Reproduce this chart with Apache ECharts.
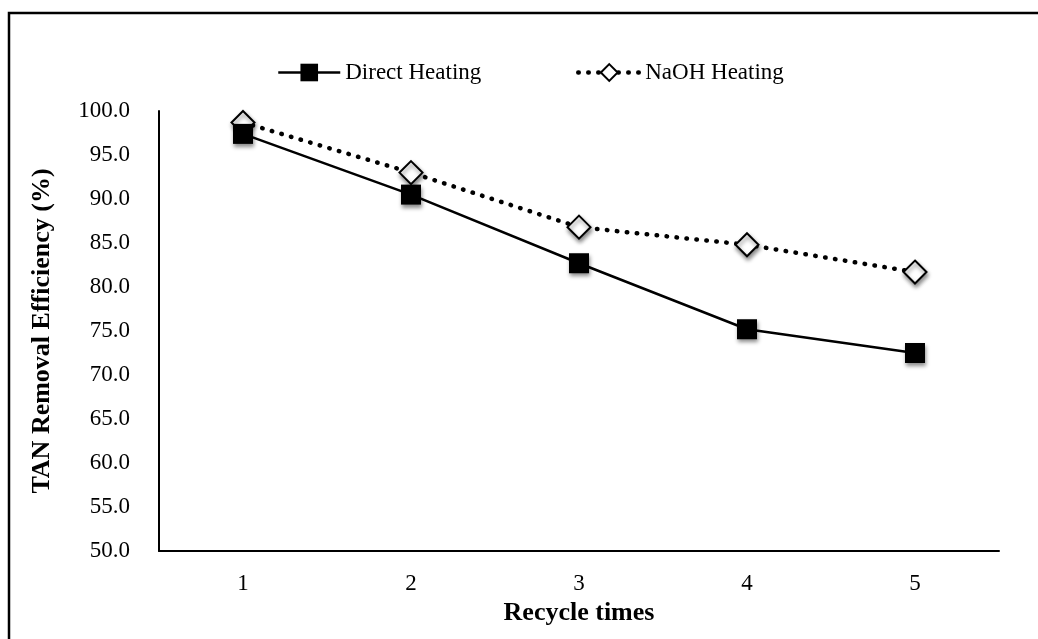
<!DOCTYPE html>
<html>
<head>
<meta charset="utf-8">
<style>
  html, body { margin: 0; padding: 0; background: #fff; }
  #chart { width: 1038px; height: 639px; }
</style>
<script src="https://cdn.jsdelivr.net/npm/echarts@6/dist/echarts.min.js"></script>
</head>
<body>
<div id="chart"></div>
<script>
// Recycle runs along the x axis
const recycleTimes = ['1', '2', '3', '4', '5'];
// TAN removal efficiency (%) per run
const directHeating = [97.4, 90.5, 82.7, 75.2, 72.5];
const naohHeating = [98.7, 93.0, 86.8, 84.8, 81.7];

const FONT = '"Liberation Serif", "Times New Roman", serif';
const FS = 23;       // tick labels and legend
const FS_NAME = 26;  // bold axis titles
const shadow = { shadowBlur: 4, shadowOffsetX: 1, shadowOffsetY: 3, shadowColor: 'rgba(0,0,0,0.45)' };
const legendText = { fontFamily: FONT, fontSize: FS, color: '#000' };

const chart = echarts.init(document.getElementById('chart'), null, { renderer: 'canvas' });
chart.setOption({
  backgroundColor: '#ffffff',
  animation: false,
  textStyle: { fontFamily: FONT, color: '#000' },
  graphic: [{
    type: 'rect',
    shape: { x: 9, y: 13, width: 1200, height: 800 },
    style: { fill: 'none', stroke: '#000', lineWidth: 2.5 },
    silent: true
  }],
  legend: [
    {
      top: 56,
      left: 272,
      itemWidth: 62,
      itemHeight: 22,
      itemGap: 4,
      textStyle: legendText,
      data: [{ name: 'Direct Heating', lineStyle: { width: 2.5 } }]
    },
    {
      top: 56,
      left: 571,
      itemWidth: 62,
      itemHeight: 21,
      itemGap: 4,
      textStyle: legendText,
      data: [{ name: 'NaOH Heating', lineStyle: { width: 4.5 } }]
    }
  ],
  grid: { left: 159, top: 111, right: 39, bottom: 88 },
  xAxis: {
    type: 'category',
    data: recycleTimes,
    boundaryGap: true,
    name: 'Recycle times',
    nameLocation: 'middle',
    nameGap: 49,
    nameTextStyle: { fontFamily: FONT, fontSize: FS_NAME, fontWeight: 'bold', color: '#000' },
    axisLine: { lineStyle: { color: '#000', width: 2 } },
    axisTick: { show: false },
    axisLabel: { fontFamily: FONT, fontSize: FS, color: '#000', margin: 21 },
    splitLine: { show: false }
  },
  yAxis: {
    type: 'value',
    min: 50,
    max: 100,
    interval: 5,
    name: 'TAN Removal Efficiency (%)',
    nameLocation: 'middle',
    nameRotate: 90,
    nameGap: 104,
    nameTextStyle: { fontFamily: FONT, fontSize: FS_NAME, fontWeight: 'bold', color: '#000' },
    axisLine: { show: true, lineStyle: { color: '#000', width: 2 } },
    axisTick: { show: false },
    axisLabel: { fontFamily: FONT, fontSize: FS, color: '#000', margin: 29, formatter: v => v.toFixed(1) },
    splitLine: { show: false }
  },
  series: [
    {
      name: 'NaOH Heating',
      type: 'line',
      data: naohHeating,
      z: 2,
      symbol: 'diamond',
      symbolSize: 23,
      showAllSymbol: true,
      lineStyle: { color: '#000', width: 4.5, type: [0.5, 9.5], cap: 'round' },
      itemStyle: Object.assign({ color: '#fff', borderColor: '#000', borderWidth: 2 }, shadow)
    },
    {
      name: 'Direct Heating',
      type: 'line',
      data: directHeating,
      z: 3,
      symbol: 'rect',
      symbolSize: 20,
      showAllSymbol: true,
      lineStyle: { color: '#000', width: 2.5, type: 'solid' },
      itemStyle: Object.assign({ color: '#000', borderColor: '#000', borderWidth: 0 }, shadow)
    }
  ]
});
</script>
</body>
</html>
